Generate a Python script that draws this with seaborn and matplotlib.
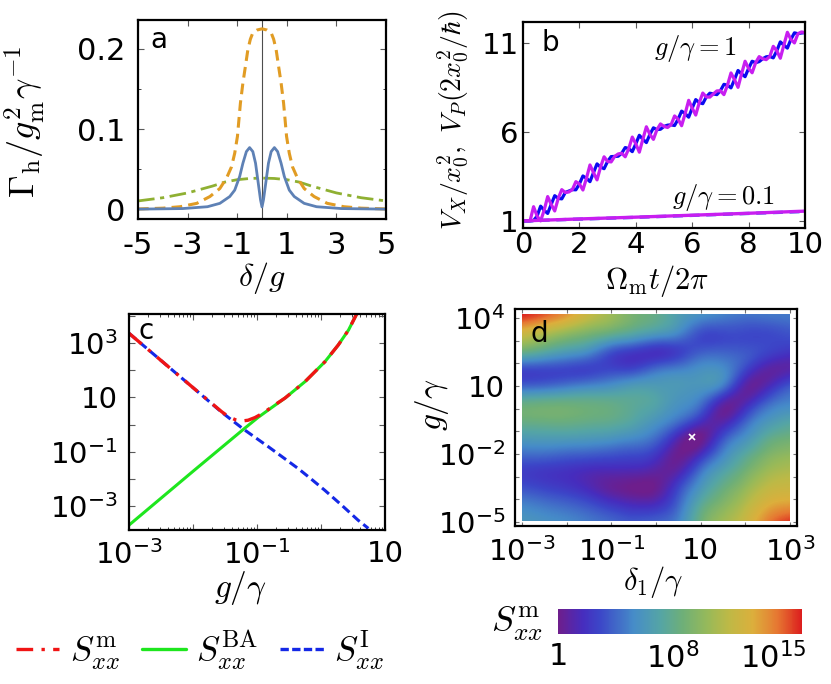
import numpy as np
import matplotlib
matplotlib.use('Agg')
import matplotlib.pyplot as plt
from matplotlib.colors import LinearSegmentedColormap
from matplotlib.lines import Line2D
from matplotlib.patches import Rectangle
from matplotlib.ticker import FixedLocator, FixedFormatter, LogLocator, NullFormatter
import seaborn as sns

# ---------------- data ----------------
# (a) heating rate vs detuning
delta_orange = [-5, -4, -3.3, -2.63, -2.1, -1.7, -1.43, -1.23, -1.1, -0.99, -0.93, -0.87, -0.77,
                -0.67, -0.57, -0.47, -0.37, -0.2, 0, 0.2, 0.37, 0.47, 0.57, 0.67, 0.77, 0.87,
                0.93, 0.99, 1.1, 1.23, 1.43, 1.7, 2.1, 2.63, 3.3, 4, 5]
gamma_orange = [0.0005, 0.0015, 0.0033, 0.0075, 0.016, 0.026, 0.039, 0.053, 0.07, 0.091, 0.112,
                0.1325, 0.1575, 0.178, 0.199, 0.212, 0.22, 0.2235, 0.225, 0.2235, 0.22, 0.212,
                0.199, 0.178, 0.1575, 0.1325, 0.112, 0.091, 0.07, 0.053, 0.039, 0.026, 0.016,
                0.0075, 0.0033, 0.0015, 0.0005]
delta_blue = [-5, -3.2, -2.2, -1.7, -1.3, -1.1, -0.9, -0.77, -0.63, -0.5, -0.37, -0.26, -0.17,
              -0.06, 0, 0.06, 0.17, 0.26, 0.37, 0.5, 0.63, 0.77, 0.9, 1.1, 1.3, 1.7, 2.2, 3.2, 5]
gamma_blue = [0.0003, 0.001, 0.0033, 0.0075, 0.016, 0.024, 0.041, 0.0575, 0.072, 0.077, 0.072,
              0.0575, 0.037, 0.012, 0.003, 0.012, 0.037, 0.0575, 0.072, 0.077, 0.072, 0.0575,
              0.041, 0.024, 0.016, 0.0075, 0.0033, 0.001, 0.0003]
delta_green = [-5, -4, -3, -2, -1.5, -1, -0.5, 0, 0.5, 1, 1.5, 2, 3, 4, 5]
gamma_green = [0.0105, 0.0145, 0.0205, 0.029, 0.034, 0.037, 0.0385, 0.039, 0.0385, 0.037, 0.034,
               0.029, 0.0205, 0.0145, 0.0105]

# (b) variances vs time
t_b = np.linspace(0, 10, 81)
vp_strong = [1.00, 1.00, 1.00, 1.80, 1.27, 1.00, 1.60, 2.37, 1.93, 1.56, 2.27, 2.76, 2.60, 2.63,
             2.76, 3.21, 3.08, 2.74, 3.40, 4.15, 3.72, 3.31, 4.03, 4.61, 4.35, 4.32, 4.63, 4.77,
             4.81, 4.61, 5.07, 5.72, 5.34, 4.87, 5.60, 6.30, 5.87, 5.59, 6.14, 6.46, 6.32, 6.26,
             6.41, 6.91, 6.73, 6.36, 7.04, 7.79, 7.35, 6.96, 7.66, 8.20, 7.98, 7.97, 8.15, 8.32,
             8.33, 8.11, 8.64, 9.33, 8.96, 8.52, 9.28, 9.99, 9.59, 9.34, 9.91, 10.25, 10.13,
             10.08, 10.26, 10.83, 10.58, 10.16, 10.90, 11.62, 11.22, 11.02, 11.54, 11.64, 11.60]
vx_strong = [1.00, 1.00, 1.00, 1.02, 1.27, 1.83, 1.60, 1.42, 1.93, 2.42, 2.27, 2.24, 2.60, 2.68,
             2.76, 2.75, 3.08, 3.53, 3.40, 3.21, 3.72, 4.21, 4.03, 3.94, 4.35, 4.62, 4.63, 4.64,
             4.81, 5.13, 5.07, 4.90, 5.34, 5.82, 5.60, 5.41, 5.87, 6.24, 6.14, 6.16, 6.32, 6.39,
             6.41, 6.37, 6.73, 7.18, 7.04, 6.84, 7.35, 7.83, 7.66, 7.60, 7.98, 8.19, 8.15, 8.11,
             8.33, 8.69, 8.64, 8.49, 8.96, 9.47, 9.28, 9.12, 9.59, 9.99, 9.91, 9.97, 10.13,
             10.24, 10.26, 10.18, 10.58, 11.08, 10.90, 10.73, 11.22, 11.59, 11.54, 11.58, 11.60]
t_weak = [0, 2, 4, 6, 8, 10]
vx_weak = [1.0, 1.10, 1.20, 1.31, 1.42, 1.53]
vp_weak = [1.0, 1.11, 1.21, 1.32, 1.43, 1.55]

# (c) spectra vs coupling, log10 values
lg_imp = [-3, -2.5, -2.0, -1.55, -1.21, -0.82, -0.61, -0.35, -0.15, 0.06, 0.32, 0.58, 0.74]
ls_imp = [3.36, 2.36, 1.36, 0.45, -0.17, -0.82, -1.18, -1.63, -2.01, -2.42, -2.96, -3.52, -3.82]
lg_ba = [-3, -2, -1.21, -0.98, -0.75, -0.56, -0.25, 0.06, 0.27, 0.43, 0.57, 0.65]
ls_ba = [-3.70, -1.72, -0.17, 0.27, 0.66, 0.98, 1.58, 2.31, 2.93, 3.48, 4.13, 4.6]
lg_tot = [-3, -2, -1.55, -1.45, -1.34, -1.24, -1.14, -1.03, -0.9, -0.75, -0.56, -0.25, 0.06,
          0.27, 0.43, 0.57, 0.65]
ls_tot = [3.36, 1.36, 0.47, 0.30, 0.18, 0.13, 0.16, 0.26, 0.43, 0.68, 0.98, 1.58, 2.31, 2.93,
          3.48, 4.13, 4.6]

# (d) log10 S_xx^m on a grid: columns log10(delta1/gamma), rows log10(g/gamma) top->bottom
d_cols = [-3, -2.5, -2, -1.5, -1, -0.5, 0, 0.5, 1, 1.5, 2, 2.5, 3]
d_rows = [4, 3.25, 2.5, 1.75, 1, 0.25, -0.5, -1.25, -2, -2.75, -3.5, -4.25, -5]
s_grid = [
    [16.5, 15.5, 14, 12, 10.5, 9, 8, 6.5, 5.3, 4.7, 4.3, 4.4, 4.5],
    [12.5, 11.3, 10, 9, 8, 7, 6, 5, 3.2, 3.0, 3.0, 3.0, 3.3],
    [8.5, 7.5, 6.5, 5.5, 3.5, 2.5, 2.0, 2.6, 3.6, 3.8, 3.5, 2.8, 2.2],
    [3.3, 3.2, 3.0, 2.8, 2.8, 2.8, 4.0, 4.7, 5.5, 5.3, 3.0, 1.0, 1.0],
    [3.8, 4.0, 4.5, 5.0, 5.5, 6.2, 6.3, 6.2, 6.0, 4.8, 1.0, 1.3, 3.3],
    [8, 8.2, 8.3, 8.2, 8, 7.6, 7.0, 5.8, 4.5, 1.2, 1.2, 3.8, 5.0],
    [8.5, 8.6, 8.6, 8.3, 8, 7.2, 6.0, 4.5, 2.2, 0.8, 3.5, 5.8, 6.8],
    [6.5, 6.6, 6.6, 6.4, 6.1, 5.5, 4.3, 1.5, 0.0, 3.0, 5.5, 7.6, 8.5],
    [4.3, 4.3, 4.0, 3.8, 3.5, 3.2, 2.3, 0.2, 1.6, 5.0, 7.3, 9.2, 10],
    [2.6, 2.3, 2.0, 1.6, 1.4, 1.3, 0.8, 1.0, 4.3, 6.8, 8.8, 10.6, 11.3],
    [3.3, 2.8, 2.3, 1.5, 0.5, 0.0, 0.2, 2.8, 6.0, 8.3, 10.2, 12, 12.5],
    [5, 4.5, 4, 3.3, 2.3, 1.6, 1.8, 4.0, 7.5, 9.6, 11.5, 13.5, 14.2],
    [6, 5.6, 5.2, 4.6, 4, 3.5, 3.8, 5.0, 8.5, 10.7, 12.5, 15, 16.5],
]
opt_point = (0.8, -1.23)

cmap_colors = ['#6e1e8c', '#462dbe', '#3c46c8', '#468cc8', '#55a5a5', '#6eaf78',
               '#96b95a', '#beb946', '#dcaf3c', '#e67832', '#dc1e1e']
cmap_pos = [0, 0.1, 0.17, 0.31, 0.42, 0.51, 0.61, 0.7, 0.8, 0.9, 1.0]

BLUE_A, ORANGE_A, GREEN_A = '#5E81B5', '#E19C24', '#8FB032'

# ---------------- style ----------------
W, H = 831, 684


def box(l, t, r, b):
    return [l / W, 1 - b / H, (r - l) / W, (b - t) / H]


def fx(x):
    return x / W


def fy(y):
    return 1 - y / H


def pow10(n):
    n = int(round(n))
    if n == 0:
        return '1'
    if n == 1:
        return '10'
    return r'$\mathregular{10^{%d}}$' % n


sns.set_style('ticks')
plt.rcParams.update({
    'font.family': ['DejaVu Sans'],
    'mathtext.fontset': 'cm',
    'axes.unicode_minus': False,
    'text.color': 'black',
    'axes.labelcolor': 'black',
    'xtick.labelcolor': 'black', 'ytick.labelcolor': 'black',
    'axes.linewidth': 1.6,
    'axes.edgecolor': 'black',
    'xtick.direction': 'in', 'ytick.direction': 'in',
    'xtick.top': True, 'ytick.right': True,
    'xtick.major.size': 4, 'ytick.major.size': 4,
    'xtick.minor.size': 2, 'ytick.minor.size': 2,
    'xtick.major.width': 0.8, 'ytick.major.width': 0.8,
    'xtick.minor.width': 0.6, 'ytick.minor.width': 0.6,
})

fig = plt.figure(figsize=(W / 100, H / 100), dpi=100)

# ---------------- (a) ----------------
ax = fig.add_axes(box(138, 20, 386, 219))
ax.axvline(0, color='0.3', lw=0.8)
sns.lineplot(x=delta_green, y=gamma_green, ax=ax, color=GREEN_A, lw=2,
             linestyle=(0, (6, 2, 1.5, 2)), sort=False, estimator=None)
sns.lineplot(x=delta_orange, y=gamma_orange, ax=ax, color=ORANGE_A, lw=2.2,
             linestyle=(0, (3.5, 2)), sort=False, estimator=None)
sns.lineplot(x=delta_blue, y=gamma_blue, ax=ax, color=BLUE_A, lw=2,
             sort=False, estimator=None)
ax.set_xlim(-5, 5)
ax.set_ylim(-0.012, 0.236)
ax.set_xticks([-5, -3, -1, 1, 3, 5])
ax.set_yticks([0, 0.1, 0.2])
ax.set_yticklabels(['0', '0.1', '0.2'])
ax.yaxis.set_minor_locator(FixedLocator([0.05, 0.15]))
ax.tick_params(labelsize=22, color='0.35')
ax.tick_params(axis='y', pad=9)
ax.tick_params(axis='x', pad=9)
fig.text(fx(150), fy(40), 'a', fontsize=20, va='center')
fig.text(fx(262), fy(278), r'$\delta/g$', fontsize=23, ha='center', va='center')
fig.text(fx(25), fy(122), r'$\Gamma_{\rm h}/g_{\rm m}^2\gamma^{-1}$', fontsize=26,
         ha='center', va='center', rotation=90)

# ---------------- (b) ----------------
ax = fig.add_axes(box(523, 22, 805, 228))
sns.lineplot(x=t_b, y=vx_strong, ax=ax, color='#0a0af0', lw=2.3, sort=False, estimator=None)
sns.lineplot(x=t_b, y=vp_strong, ax=ax, color='#c81ef0', lw=2.3, sort=False, estimator=None)
sns.lineplot(x=t_weak, y=vx_weak, ax=ax, color='#3c64f0', lw=2.4, linestyle=(0, (3, 2)),
             sort=False, estimator=None)
sns.lineplot(x=t_weak, y=vp_weak, ax=ax, color='#c81ef0', lw=2.4, sort=False, estimator=None)
ax.set_xlim(0, 10)
ax.set_ylim(0.6, 12.2)
ax.set_xticks([0, 2, 4, 6, 8, 10])
ax.set_yticks([1, 6, 11])
ax.tick_params(labelsize=21, color='0.35')
ax.tick_params(axis='y', pad=3)
ax.tick_params(axis='x', pad=2)
ax.text(4.65, 10.7, r'$g/\gamma=1$', fontsize=19, va='center')
ax.text(5.3, 2.3, r'$g/\gamma=0.1$', fontsize=19, va='center')
fig.text(fx(542), fy(43), 'b', fontsize=20, va='center')
fig.text(fx(657), fy(281), r'$\Omega_{\rm m}t/2\pi$', fontsize=22, ha='center', va='center')
fig.text(fx(453), fy(120), r'$V_X/x_0^2,\ V_P(2x_0^2/\hbar)$', fontsize=20,
         ha='center', va='center', rotation=90)

# ---------------- (c) ----------------
ax = fig.add_axes(box(129, 314, 385, 530))
sns.lineplot(x=10 ** np.array(lg_ba), y=10 ** np.array(ls_ba), ax=ax, color='#1ee61e', lw=2.2,
             sort=False, estimator=None)
sns.lineplot(x=10 ** np.array(lg_imp), y=10 ** np.array(ls_imp), ax=ax, color='#1428e6', lw=2.2,
             linestyle=(0, (3, 1.5)), sort=False, estimator=None)
sns.lineplot(x=10 ** np.array(lg_tot), y=10 ** np.array(ls_tot), ax=ax, color='#f01414', lw=2.4,
             linestyle=(0, (5, 2.5, 1, 2.5)), sort=False, estimator=None)
ax.set_xscale('log')
ax.set_yscale('log')
ax.set_xlim(1e-3, 10)
ax.set_ylim(10 ** -3.88, 10 ** 4.07)
ax.xaxis.set_major_locator(FixedLocator([1e-3, 1e-2, 1e-1, 1, 10]))
ax.xaxis.set_major_formatter(FixedFormatter([pow10(-3), '', pow10(-1), '', pow10(1)]))
ax.xaxis.set_minor_locator(LogLocator(base=10, subs=np.arange(2, 10), numticks=20))
ax.xaxis.set_minor_formatter(NullFormatter())
ydec = [-3, -2, -1, 0, 1, 2, 3, 4]
ax.yaxis.set_major_locator(FixedLocator([10.0 ** k for k in ydec]))
ax.yaxis.set_major_formatter(FixedFormatter([pow10(k) if k % 2 else '' for k in ydec]))
ax.yaxis.set_minor_locator(FixedLocator([]))
ax.tick_params(labelsize=21, color='0.35')
ax.tick_params(axis='y', pad=8)
ax.tick_params(axis='x', pad=7)
fig.text(fx(138), fy(331), 'c', fontsize=20, va='center')
fig.text(fx(240), fy(588), r'$g/\gamma$', fontsize=24, ha='center', va='center')

handles = [Line2D([], [], color='#f01414', lw=2.4, linestyle=(0, (5, 2.5, 1, 2.5))),
           Line2D([], [], color='#1ee61e', lw=2.4),
           Line2D([], [], color='#1428e6', lw=2.4, linestyle=(0, (2.5, 1)))]
fig.legend(handles, [r'$S_{xx}^{\rm m}$', r'$S_{xx}^{\rm BA}$', r'$S_{xx}^{\rm I}$'],
           loc='center', bbox_to_anchor=(fx(200), fy(650)), ncol=3, frameon=False,
           fontsize=25, handlelength=1.25, handletextpad=0.3, columnspacing=0.65)

# ---------------- (d) ----------------
ax = fig.add_axes(box(515, 309, 797, 526))
cmap = LinearSegmentedColormap.from_list('rainbow_m', list(zip(cmap_pos, cmap_colors)))
im = ax.imshow(np.array(s_grid), cmap=cmap, vmin=0, vmax=17, aspect='auto', origin='upper',
               extent=(d_cols[0] - 0.25, d_cols[-1] + 0.25, d_rows[-1] - 0.375, d_rows[0] + 0.375),
               interpolation='lanczos', interpolation_stage='data')
clip = Rectangle((-3, -4.96), 6, 9.14, transform=ax.transData)
im.set_clip_path(clip)
ax.plot(*opt_point, marker='x', color='white', ms=5, mew=1.2)
ax.set_xlim(-3.16, 3.16)
ax.set_ylim(-5.18, 4.4)
ax.xaxis.set_major_locator(FixedLocator(list(range(-3, 4))))
ax.xaxis.set_major_formatter(FixedFormatter([pow10(k) if k % 2 else '' for k in range(-3, 4)]))
ax.yaxis.set_major_locator(FixedLocator(list(range(-5, 5))))
ax.yaxis.set_major_formatter(FixedFormatter([pow10(k) if (k + 5) % 3 == 0 else ''
                                             for k in range(-5, 5)]))
ax.tick_params(labelsize=21, color='0.45', length=3)
ax.tick_params(axis='y', pad=7)
ax.tick_params(axis='x', pad=8)
fig.text(fx(531), fy(334), 'd', fontsize=20, va='center')
fig.text(fx(432), fy(405), r'$g/\gamma$', fontsize=24, ha='center', va='center', rotation=90)
fig.text(fx(653), fy(582), r'$\delta_1/\gamma$', fontsize=22, ha='center', va='center')

cax = fig.add_axes(box(558, 609, 802, 634))
cb = fig.colorbar(im, cax=cax, orientation='horizontal', ticks=[0, 8, 15])
cb.ax.set_xticklabels(['1', pow10(8), pow10(15)])
cb.outline.set_visible(False)
cb.ax.tick_params(length=0, top=False, labelsize=22, pad=6)
fig.text(fx(517), fy(624), r'$S_{xx}^{\rm m}$', fontsize=26, ha='center', va='center')

fig.savefig('out.png', dpi=100)
